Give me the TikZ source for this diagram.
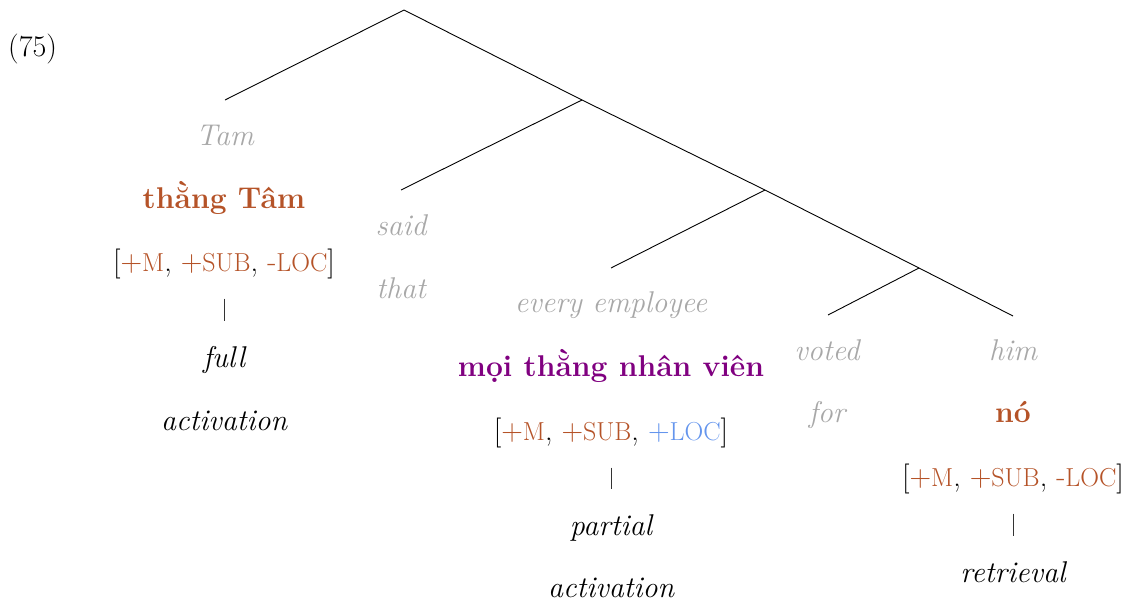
\documentclass[tikz,border=0pt]{standalone}
\definecolor{glossgray}{RGB}{168,168,168}
\definecolor{rust}{RGB}{181,83,40}
\definecolor{vpurple}{RGB}{128,0,128}
\definecolor{locblue}{RGB}{100,149,237}
\newcommand{\fsc}[1]{{\fontsize{26}{30}\selectfont #1}}
\begin{document}
\begin{tikzpicture}[x=1pt,y=-1pt,
  every node/.style={inner sep=0pt,anchor=base,font=\fontsize{30}{36}\selectfont},
  gl/.style={text=glossgray,font=\fontsize{30}{36}\selectfont\itshape},
  vn/.style={text=rust,font=\fontsize{30}{36}\selectfont\bfseries},
  vnp/.style={text=vpurple,font=\fontsize{30}{36}\selectfont\bfseries},
  res/.style={font=\fontsize{30}{36}\selectfont\itshape},
  branch/.style={line width=0.9pt,black},
  vline/.style={line width=0.9pt,black!80,shorten <=20pt,shorten >=25pt}]
\useasboundingbox (0,0) rectangle (1141,606);
\node[anchor=base west] (ex) at (8,56) {(75)};
% tree coordinates
\coordinate (root) at (404,10);
\coordinate (n1) at (582,100);
\coordinate (n2) at (765,190);
\coordinate (n3) at (919,268);
\coordinate (lTam) at (225,100);
\coordinate (lSaid) at (401,190);
\coordinate (lEvery) at (611,268);
\coordinate (lVoted) at (828,315);
\coordinate (lHim) at (1013,316);
\draw[branch] (lTam) -- (root) -- (n1) -- (n2) -- (n3) -- (lHim);
\draw[branch] (n1) -- (lSaid);
\draw[branch] (n2) -- (lEvery);
\draw[branch] (n3) -- (lVoted);
% Tam column
\node[gl] (tam) at (225,145) {Tam};
\node[vn] (thang) at (224,208) {thằng Tâm};
\node (f1) at (224,271) {[{\color{rust}+\fsc{M}}, {\color{rust}+\fsc{SUB}}, {\color{rust}-\fsc{LOC}}]};
\node[res] (full) at (224,367) {full};
\node[res] (act1) at (224,430) {activation};
\draw[vline] (f1.south) -- (full.north);
% said that
\node[gl] (said) at (401,235) {said};
\node[gl] (that) at (401,298) {that};
% every employee column
\node[gl] (every) at (611,312) {every employee};
\node[vnp] (moi) at (611,376) {mọi thằng nhân viên};
\node (f2) at (611,440) {[{\color{rust}+\fsc{M}}, {\color{rust}+\fsc{SUB}}, {\color{locblue}+\fsc{LOC}}]};
\node[res] (partial) at (611,535) {partial};
\node[res] (act2) at (611,597) {activation};
\draw[vline] (f2.south) -- (partial.north);
% voted for
\node[gl] (voted) at (827,360) {voted};
\node[gl] (for) at (827,422) {for};
% him column
\node[gl] (him) at (1013,360) {him};
\node[vn] (no) at (1013,422) {nó};
\node (f3) at (1013,486) {[{\color{rust}+\fsc{M}}, {\color{rust}+\fsc{SUB}}, {\color{rust}-\fsc{LOC}}]};
\node[res] (retr) at (1013,582) {retrieval};
\draw[vline] (f3.south) -- (retr.north);
\end{tikzpicture}
\end{document}
